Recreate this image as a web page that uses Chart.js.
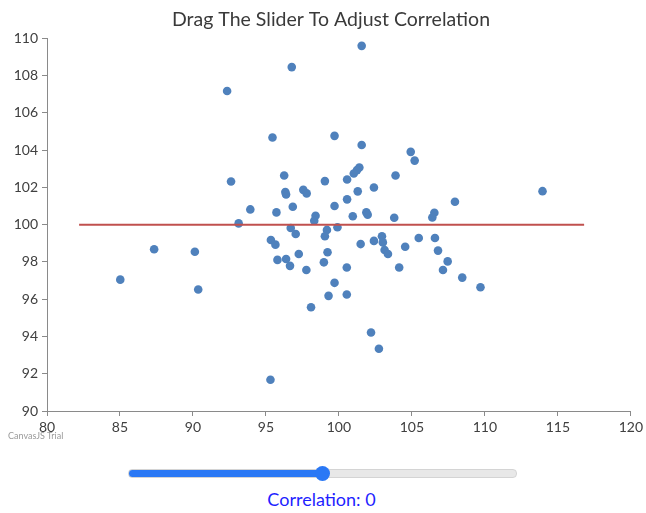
<!DOCTYPE html>
<html>
<head>
<meta charset="utf-8">
<script src="https://cdn.jsdelivr.net/npm/chart.js@4"></script>
<style>
    body { margin: 0; background: #fff; font-family: Lato, sans-serif; }
    #wrap { position: relative; width: 646px; height: 513px; }
    #box { position: absolute; left: 0; top: 0; width: 646px; height: 446px; }
    #trial { position: absolute; left: 8px; top: 430px; font-size: 9px; color: #9a9a9a; }
    #slider {
        position: absolute; left: 128px; top: 469px; margin: 0;
        -webkit-appearance: none; appearance: none;
        width: 387px; height: 7px; border-radius: 4px;
        border: 1px solid #d4d4d4;
        background: linear-gradient(to right, #2a78f5 0%, #2a78f5 50%, #e8e8e8 50%, #e8e8e8 100%);
    }
    #slider::-webkit-slider-thumb {
        -webkit-appearance: none; appearance: none;
        width: 15px; height: 15px; border-radius: 50%;
        background: #2a78f5; border: none;
    }
    #label {
        position: absolute; left: 0; width: 643px; top: 488px;
        text-align: center; font-size: 18px; color: #1f1fff;
    }
</style>
</head>
<body>
<div id="wrap">
    <div id="box"><canvas id="chart"></canvas></div>
    <div id="trial">CanvasJS Trial</div>
    <input id="slider" type="range" min="-1" max="1" step="0.01" value="0">
    <div id="label">Correlation: 0</div>
</div>
<script>
// scatter points
const xValues = [
    92.34, 92.61, 93.93, 93.13, 87.34, 85.02, 90.13, 90.36, 101.56, 96.77,
    95.45, 99.70, 101.56, 104.92, 105.19, 96.25, 101.40, 101.24, 101.02, 100.56,
    103.88, 99.04, 102.40, 97.56, 97.79, 96.33, 96.38, 101.29, 95.72, 96.84,
    99.70, 100.56, 98.40, 98.31, 100.95, 101.88, 101.97, 103.79, 106.54, 106.40,
    107.95, 113.95, 95.34, 95.65, 96.70, 97.04, 95.79, 96.38, 96.65, 97.25,
    97.77, 99.18, 99.04, 99.90, 99.22, 98.97, 100.54, 99.70, 99.29, 100.54,
    98.09, 101.49, 102.40, 102.95, 103.01, 103.13, 103.36, 104.54, 104.13, 105.47,
    106.58, 106.79, 107.45, 107.13, 102.20, 102.74, 95.31, 108.45, 109.70
];
const yValues = [
    107.18, 102.32, 100.82, 100.07, 98.68, 97.05, 98.55, 96.52, 109.60, 108.46,
    104.68, 104.77, 104.28, 103.91, 103.44, 102.64, 103.07, 102.93, 102.75, 102.43,
    102.64, 102.34, 102.00, 101.87, 101.68, 101.75, 101.62, 101.79, 100.66, 100.96,
    101.00, 101.36, 100.48, 100.21, 100.45, 100.66, 100.54, 100.37, 100.64, 100.39,
    101.23, 101.80, 99.18, 98.93, 99.82, 99.50, 98.11, 98.16, 97.79, 98.43,
    97.57, 99.72, 99.38, 99.86, 98.52, 97.98, 97.70, 96.88, 96.18, 96.25,
    95.57, 98.96, 99.13, 99.38, 99.05, 98.64, 98.43, 98.82, 97.70, 99.29,
    99.29, 98.61, 98.03, 97.57, 94.21, 93.34, 91.68, 97.16, 96.64
];

// fitted line (correlation 0)
const lineX = [82.2, 116.8];
const lineY = [100, 100];

const xTicks = [80, 85, 90, 95, 100, 105, 110, 115, 120];
const yTicks = [90, 92, 94, 96, 98, 100, 102, 104, 106, 108, 110];

Chart.defaults.font.family = "Lato, sans-serif";

const axisColor = "#8a8a8a";

// title is centred a bit right of the canvas middle
const shiftTitle = {
    id: "shiftTitle",
    afterLayout(chart) {
        const t = chart.titleBlock;
        if (t) { t.left = 29; t.width = t.right - t.left; }
    }
};

new Chart(document.getElementById("chart"), {
    type: "scatter",
    data: {
        datasets: [{
            type: "line",
            data: lineX.map((x, i) => ({ x: x, y: lineY[i] })),
            borderColor: "#C0504E",
            borderWidth: 2,
            pointRadius: 0,
            fill: false
        }, {
            data: xValues.map((x, i) => ({ x: x, y: yValues[i] })),
            backgroundColor: "#4F81BC",
            borderWidth: 0,
            pointRadius: 4.3,
            pointHoverRadius: 4.3
        }]
    },
    options: {
        responsive: true,
        maintainAspectRatio: false,
        animation: false,
        layout: { padding: { left: 0, right: 13, top: 0, bottom: 0 } },
        plugins: {
            legend: { display: false },
            tooltip: { enabled: false },
            title: {
                display: true,
                text: "Drag The Slider To Adjust Correlation",
                color: "#3a3a3a",
                font: { size: 19.5, weight: "normal" },
                padding: { top: 8, bottom: 7 }
            }
        },
        scales: {
            x: {
                type: "linear",
                min: 80, max: 120,
                afterBuildTicks: s => { s.ticks = xTicks.map(v => ({ value: v })); },
                afterFit: s => { s.height = 35; },
                border: { color: axisColor, width: 1 },
                grid: { drawOnChartArea: false, tickLength: 5, color: axisColor },
                ticks: { color: "#404040", font: { size: 14 }, padding: 3, maxRotation: 0 }
            },
            y: {
                min: 90, max: 110,
                afterBuildTicks: s => { s.ticks = yTicks.map(v => ({ value: v })); },
                afterFit: s => { s.width = 47; },
                border: { color: axisColor, width: 1 },
                grid: { drawOnChartArea: false, tickLength: 5, color: axisColor },
                ticks: { color: "#404040", font: { size: 14 }, padding: 4 }
            }
        }
    },
    plugins: [shiftTitle]
});
</script>
</body>
</html>
